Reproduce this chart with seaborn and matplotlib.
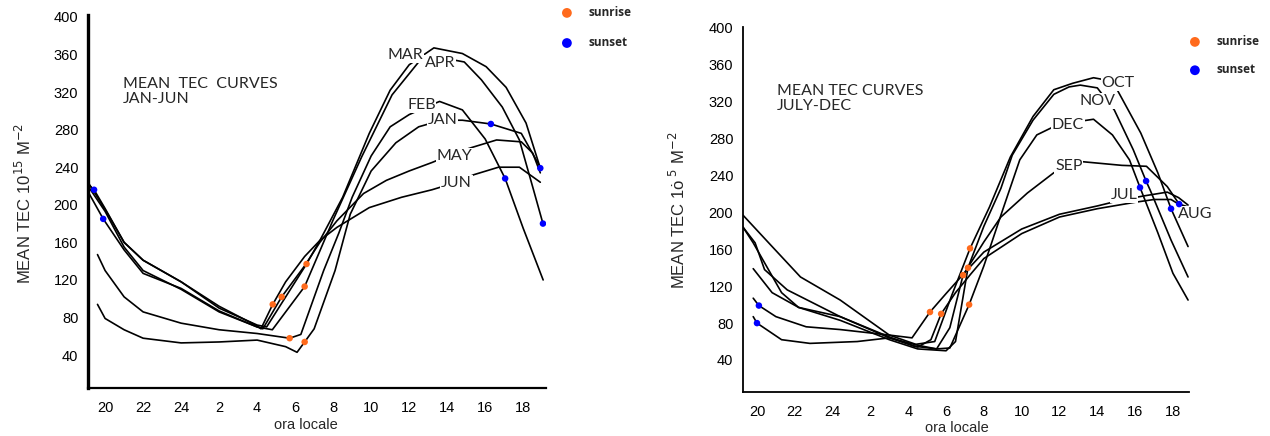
import matplotlib
matplotlib.use('Agg')
import matplotlib.pyplot as plt
import seaborn as sns
import pandas as pd

# local hour axis: hours after midnight are stored +24 (2 -> 26, 18 -> 42)
hour_ticks = [20, 22, 24, 26, 28, 30, 32, 34, 36, 38, 40, 42]
hour_labels = ['20', '22', '24', '2', '4', '6', '8', '10', '12', '14', '16', '18']
tec_ticks = [40, 80, 120, 160, 200, 240, 280, 320, 360, 400]

# ---- JAN-JUN ----
jan_h = [19.6, 20, 21, 22, 24, 26, 28, 29.5, 30.1, 30.5, 31, 32.1, 32.9, 34, 35.3, 36.5, 37.7, 38.8, 40.3, 41.9, 42.9]
jan_v = [94, 79, 67, 58, 53, 54, 56, 49, 43, 54, 68, 130, 190, 236, 266, 283, 290, 290, 286, 276, 240]
feb_h = [19.6, 20, 21, 22, 24, 26, 28, 29.71, 30.3, 31.5, 32.3, 33, 34, 35, 36, 37, 37.6, 38.8, 40, 41.05, 42, 43.05]
feb_v = [147, 130, 102, 86, 74, 67, 63, 58, 62, 130, 170, 208, 252, 283, 296, 305, 310, 301, 270, 228, 175, 120]
mar_h = [19.1, 20, 21, 22, 24, 26, 28, 28.5, 30.6, 31.3, 32.5, 33.9, 35, 36, 37.3, 38.8, 40.05, 41.1, 42.15, 42.9]
mar_v = [224, 195, 160, 141, 118, 90, 72, 70, 137, 162, 208, 276, 322, 349, 367, 361, 347, 325, 287, 239]
apr_h = [19.1, 20, 21, 22, 24, 26, 28, 28.8, 30.5, 32, 33.5, 35.1, 36.5, 37.6, 38.9, 39.8, 40.9, 41.8, 42.5, 43.04]
apr_v = [220, 193, 155, 130, 110, 86, 70, 67, 113, 184, 251, 317, 352, 357, 352, 333, 304, 269, 219, 180]
may_h = [19.1, 19.9, 21, 22, 24, 26, 28, 28.3, 29.29, 30.5, 31.3, 32.2, 33.6, 34.8, 36, 37.2, 38.4, 39.3, 40.6, 41.9, 42.5, 42.9]
may_v = [214, 185, 152, 127, 111, 87, 70, 68, 102, 135, 160, 183, 212, 226, 236, 245, 255, 261, 269, 267, 255, 234]
jun_h = [19.1, 19.42, 20, 21, 22, 24, 26, 28, 28.2, 28.82, 29.5, 30.5, 31.3, 32.2, 33.9, 35.6, 37.2, 38.5, 39.4, 40.7, 41.8, 42.9]
jun_v = [222, 216, 196, 160, 141, 118, 92, 71, 68, 94, 118, 145, 162, 176, 197, 208, 216, 224, 232, 240, 240, 224]

h1_rise_h = [28.82, 29.29, 30.6, 30.5, 29.71, 30.5]
h1_rise_v = [94, 102, 137, 113, 58, 54]
h1_set_h = [19.42, 19.9, 40.3, 41.05, 42.9, 43.04]
h1_set_v = [216, 185, 286, 228, 239, 180]

h1_names = ['MAR', 'APR', 'FEB', 'JAN', 'MAY', 'JUN']
h1_name_h = [35.8, 37.64, 36.64, 37.74, 38.4, 38.5]
h1_name_v = [359, 351, 306, 290, 252, 223]

# ---- JULY-DEC ----
jul_h = [19.8, 20.1, 21, 22.6, 24.4, 27, 28.2, 29.15, 30, 31, 32, 34, 36, 38, 39.4, 40.5, 41.7, 42.3, 42.8]
jul_v = [107, 99, 87, 76, 73, 67, 64, 92, 112, 135, 157, 182, 198, 207, 214, 218, 222, 216, 208]
aug_h = [19.8, 20.0, 21.3, 22.8, 25.3, 27, 28.5, 29.2, 29.74, 30.5, 31.3, 32, 34, 36, 38, 40, 41, 41.9, 42.3, 42.8]
aug_v = [87, 80, 62, 58, 60, 64, 54, 62, 90, 113, 133, 150, 177, 195, 204, 211, 214, 214, 209, 204]
sep_h = [19.8, 20.8, 22.2, 24.4, 27, 28.5, 29.5, 30.2, 30.9, 32, 32.9, 34.3, 35.7, 36.5, 37.2, 39.3, 40.6, 41.7, 42.33, 42.8]
sep_v = [139, 113, 97, 87, 64, 56, 52, 75, 132, 168, 195, 221, 243, 250, 255, 251, 250, 228, 209, 206]
oct_h = [19.26, 20.8, 22.3, 24.4, 27, 28.4, 29.4, 30.3, 31.27, 32.3, 33.4, 34.6, 35.7, 36.7, 37.8, 38.6, 39.05, 40.3, 41.2, 41.9, 42.8]
oct_v = [197, 163, 130, 105, 67, 57, 60, 110, 161, 206, 260, 304, 333, 340, 346, 343, 333, 286, 243, 204, 163]
nov_h = [19.26, 19.8, 21.3, 22.2, 24.4, 27, 28.5, 30.0, 30.5, 31.16, 32, 32.9, 33.5, 34.6, 35.7, 36.5, 37.1, 38, 38.9, 39.9, 40.58, 40.8, 41.9, 42.8]
nov_v = [184, 167, 113, 97, 83, 62, 52, 50, 60, 140, 185, 226, 262, 300, 328, 336, 338, 335, 311, 268, 234, 224, 170, 130]
dec_h = [19.26, 19.9, 20.4, 21.6, 24.4, 27, 28.3, 29.5, 30.2, 31.22, 32, 33, 33.9, 34.8, 35.6, 36.5, 37.8, 38.8, 39.7, 40.26, 41.2, 42, 42.8]
dec_v = [184, 167, 138, 116, 87, 65, 55, 52, 53, 100, 142, 203, 257, 284, 292, 297, 301, 284, 257, 227, 178, 134, 105]

h2_rise_h = [29.15, 29.74, 30.9, 31.16, 31.27, 31.22]
h2_rise_v = [92, 90, 132, 140, 161, 100]
h2_set_h = [20.1, 20.0, 40.26, 40.58, 41.9, 42.33]
h2_set_v = [99, 80, 227, 234, 204, 209]

h2_names = ['OCT', 'NOV', 'DEC', 'SEP', 'JUL', 'AUG']
h2_name_h = [39.1, 38.0, 36.45, 36.5, 39.4, 43.2]
h2_name_v = [340, 321, 295, 250, 219, 198]

ORANGE = '#ff6a1c'
BLUE = '#0000ff'

sns.set_theme(style='white')
plt.rcParams['font.family'] = ['Liberation Sans', 'DejaVu Sans']

fig = plt.figure(figsize=(12.7, 4.36), dpi=100)
ax1 = fig.add_axes([88 / 1270, 48 / 436, 458 / 1270, 373 / 436])
ax2 = fig.add_axes([743 / 1270, 44 / 436, 446 / 1270, 365 / 436])


def draw_panel(ax, curves, rise_h, rise_v, set_h, set_v, names, name_h, name_v):
    for h, v in curves:
        sns.lineplot(x=h, y=v, ax=ax, color='black', lw=1.2, sort=False, estimator=None)
    sns.scatterplot(x=rise_h, y=rise_v, ax=ax, color=ORANGE, s=22, edgecolor='none',
                    label='sunrise', zorder=4)
    sns.scatterplot(x=set_h, y=set_v, ax=ax, color=BLUE, s=22, edgecolor='none',
                    label='sunset', zorder=4)
    for n, h, v in zip(names, name_h, name_v):
        ax.text(h, v, n, ha='center', va='center', fontsize=11.5, family='Lato',
                bbox=dict(fc='white', ec='none', pad=0.6), zorder=3, clip_on=False)
    ax.set_xticks(hour_ticks)
    ax.set_xticklabels(hour_labels)
    ax.set_yticks(tec_ticks)
    ax.tick_params(length=0, labelsize=10.5, colors='black')
    ax.tick_params(axis='x', pad=9)
    ax.tick_params(axis='y', pad=7)
    for s in ['top', 'right']:
        ax.spines[s].set_visible(False)
    ax.set_xlabel('ora locale', fontsize=10.5)
    ax.set_facecolor('white')


draw_panel(ax1, [(jan_h, jan_v), (feb_h, feb_v), (mar_h, mar_v), (apr_h, apr_v),
                 (may_h, may_v), (jun_h, jun_v)],
           h1_rise_h, h1_rise_v, h1_set_h, h1_set_v, h1_names, h1_name_h, h1_name_v)
draw_panel(ax2, [(jul_h, jul_v), (aug_h, aug_v), (sep_h, sep_v), (oct_h, oct_v),
                 (nov_h, nov_v), (dec_h, dec_v)],
           h2_rise_h, h2_rise_v, h2_set_h, h2_set_v, h2_names, h2_name_h, h2_name_v)

ax1.set_xlim(19.1, 43.2)
ax1.set_ylim(5, 402)
ax2.set_xlim(19.26, 42.85)
ax2.set_ylim(5.3, 401)

ax1.spines['left'].set_linewidth(2.4)
ax1.spines['bottom'].set_linewidth(1.6)
ax2.spines['left'].set_linewidth(1.3)
ax2.spines['bottom'].set_linewidth(1.3)
for ax in (ax1, ax2):
    ax.spines['left'].set_color('black')
    ax.spines['bottom'].set_color('black')

ax1.set_ylabel('MEAN TEC 10$^{15}$ M$^{-2}$', fontsize=12)
ax2.set_ylabel('MEAN TEC 1\u022f$^{\\ 5}$ M$^{-2}$', fontsize=12)
ax1.yaxis.set_label_coords(-0.118, 0.496)
ax2.yaxis.set_label_coords(-0.123, 0.499)
ax1.xaxis.set_label_coords(0.476, -0.080)
ax2.xaxis.set_label_coords(0.48, -0.080)

ax1.text(20.95, 336, 'MEAN  TEC  CURVES\nJAN-JUN', ha='left', va='top', fontsize=11.5,
         family='Lato', linespacing=1.05)
ax2.text(21.06, 339, 'MEAN TEC CURVES\nJULY-DEC', ha='left', va='top', fontsize=11.5,
         family='Lato', linespacing=1.05)

ax1.legend(loc='upper left', bbox_to_anchor=(561 / 1270, 1 - 6 / 436),
           bbox_transform=fig.transFigure, frameon=False, borderpad=0, borderaxespad=0,
           handlelength=1.0, handletextpad=1.3, labelspacing=1.45, markerscale=1.5,
           prop={'family': 'Open Sans', 'weight': 'bold', 'size': 8.5})
ax2.legend(loc='upper left', bbox_to_anchor=(1189 / 1270, 1 - 35 / 436),
           bbox_transform=fig.transFigure, frameon=False, borderpad=0, borderaxespad=0,
           handlelength=1.0, handletextpad=1.3, labelspacing=1.3, markerscale=1.5,
           prop={'family': 'Open Sans', 'weight': 'bold', 'size': 8.5})

fig.savefig('out.png', dpi=100, facecolor='white')
